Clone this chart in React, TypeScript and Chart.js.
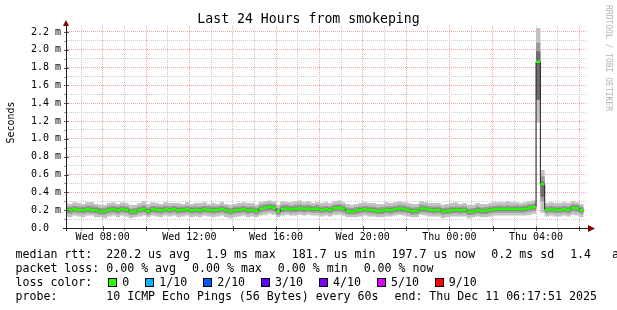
import React, { useEffect, useRef } from 'react';
import { Chart, registerables } from 'chart.js';

Chart.register(...registerables);

const FONT = '"DejaVu Sans Mono", monospace';

// time axis (hours since Wed 00:00)
const X_MIN = 6.352;
const X_MAX = 30.352;
const FIRST_STEP_H = 6.2; // first 12-minute consolidation step
const STEP_H = 0.2; // 12 minutes
const Y_MAX = 2.267; // ms

const TITLE = 'Last 24 Hours from smokeping';
const Y_TITLE = 'Seconds';
const WATERMARK = 'RRDTOOL / TOBI OETIKER';

const X_GRID_HOURS = [7, 8, 9, 10, 11, 12, 13, 14, 15, 16, 17, 18, 19, 20, 21, 22, 23, 24, 25, 26, 27, 28, 29, 30];
const X_LABEL_HOURS = [8, 12, 16, 20, 24, 28];
const X_LABELS = ['Wed 08:00', 'Wed 12:00', 'Wed 16:00', 'Wed 20:00', 'Thu 00:00', 'Thu 04:00'];

const Y_GRID = [0, 0.1, 0.2, 0.3, 0.4, 0.5, 0.6, 0.7, 0.8, 0.9, 1.0, 1.1, 1.2, 1.3, 1.4, 1.5, 1.6, 1.7, 1.8, 1.9, 2.0, 2.1, 2.2];
const Y_LABELS = ['0.0  ', '', '0.2 m', '', '0.4 m', '', '0.6 m', '', '0.8 m', '', '1.0 m', '', '1.2 m', '', '1.4 m', '', '1.6 m', '', '1.8 m', '', '2.0 m', '', '2.2 m'];

// median rtt per 12-minute step (ms)
const MEDIAN = [
  .205, .2, .21, .205, .2, .21, .205, .2, .186, .188,
  .205, .21, .2, .21, .205, .182, .185, .205, .21, .188,
  .21, .205, .2, .21, .205, .21, .2, .205, .21, .2,
  .205, .2, .21, .205, .2, .205, .21, .2, .185, .2,
  .205, .21, .2, .205, .188, .215, .228, .235, .228, .184,
  .215, .22, .21, .215, .222, .215, .22, .21, .215, .205,
  .21, .205, .222, .228, .218, .19, .186, .195, .205, .21,
  .205, .2, .19, .195, .205, .2, .21, .218, .215, .205,
  .188, .195, .218, .215, .205, .2, .205, .186, .19, .2,
  .205, .2, .205, .182, .186, .2, .19, .195, .205, .21,
  .215, .21, .215, .21, .215, .21, .215, .228, .232, 1.865,
  .494, .205, .21, .205, .205, .21, .205, .228, .222, .198,
];

// smoke: outer band (lowest / highest ping)
const OUTER_HI = [
  .28, .27, .29, .28, .27, .29, .29, .27, .26, .26,
  .28, .29, .27, .29, .28, .26, .26, .28, .3, .27,
  .29, .28, .27, .29, .28, .28, .28, .27, .29, .27,
  .28, .28, .29, .27, .28, .27, .29, .27, .26, .27,
  .28, .29, .28, .28, .26, .29, .3, .31, .3, .26,
  .3, .29, .29, .3, .31, .29, .3, .28, .29, .28,
  .29, .28, .3, .31, .29, .27, .26, .27, .28, .29,
  .28, .28, .27, .27, .29, .28, .29, .3, .29, .28,
  .27, .27, .3, .29, .28, .28, .28, .26, .27, .28,
  .29, .27, .28, .26, .26, .28, .27, .27, .28, .29,
  .29, .29, .3, .29, .29, .28, .29, .3, .31, 2.245,
  .65, .28, .29, .28, .28, .29, .28, .3, .29, .27,
];
const OUTER_LO = [
  .13, .12, .14, .13, .12, .14, .14, .12, .12, .11,
  .13, .14, .12, .14, .13, .11, .12, .13, .14, .12,
  .14, .13, .12, .14, .13, .14, .12, .13, .14, .12,
  .13, .12, .14, .13, .12, .13, .14, .12, .11, .12,
  .13, .14, .12, .13, .12, .14, .15, .16, .15, .12,
  .14, .15, .14, .14, .15, .14, .15, .14, .14, .13,
  .14, .13, .15, .15, .14, .12, .12, .12, .13, .14,
  .13, .13, .12, .12, .13, .13, .14, .15, .14, .13,
  .12, .12, .15, .14, .13, .13, .13, .11, .12, .13,
  .13, .13, .13, .11, .12, .13, .12, .12, .13, .14,
  .14, .14, .14, .14, .14, .14, .14, .15, .16, 1.18,
  .17, .13, .14, .13, .13, .14, .13, .15, .14, .12,
];
// smoke: middle band
const MID_HI = [
  .245, .24, .25, .245, .24, .25, .25, .24, .225, .23,
  .245, .25, .24, .25, .245, .22, .225, .245, .255, .23,
  .25, .245, .24, .25, .245, .25, .24, .245, .25, .24,
  .245, .24, .25, .245, .24, .245, .25, .24, .225, .24,
  .245, .25, .24, .245, .23, .26, .27, .275, .27, .225,
  .26, .26, .25, .26, .265, .255, .26, .25, .26, .245,
  .25, .245, .265, .27, .26, .23, .225, .235, .245, .25,
  .245, .24, .23, .235, .245, .24, .25, .26, .255, .245,
  .23, .235, .26, .255, .245, .24, .245, .225, .23, .24,
  .245, .24, .245, .22, .225, .24, .23, .235, .245, .25,
  .255, .25, .255, .25, .255, .25, .255, .27, .275, 2.08,
  .58, .245, .25, .245, .245, .25, .245, .27, .265, .24,
];
const MID_LO = [
  .165, .16, .17, .165, .16, .17, .165, .16, .15, .15,
  .165, .17, .16, .17, .165, .145, .15, .165, .17, .15,
  .17, .165, .16, .17, .165, .17, .16, .165, .17, .16,
  .165, .16, .17, .165, .16, .165, .17, .16, .15, .16,
  .165, .17, .16, .165, .15, .175, .185, .19, .185, .15,
  .175, .18, .17, .175, .18, .175, .18, .17, .175, .165,
  .17, .165, .18, .185, .175, .155, .15, .155, .165, .17,
  .165, .16, .155, .155, .165, .16, .17, .175, .175, .165,
  .15, .155, .175, .175, .165, .16, .165, .15, .155, .16,
  .165, .16, .165, .145, .15, .16, .155, .155, .165, .17,
  .175, .17, .175, .17, .175, .17, .175, .185, .19, 1.44,
  .3, .165, .17, .165, .165, .17, .165, .185, .18, .16,
];
// smoke: inner band
const INNER_HI = [
  .222, .218, .228, .222, .218, .228, .222, .218, .204, .206,
  .222, .228, .218, .228, .222, .2, .203, .222, .228, .206,
  .228, .222, .218, .228, .222, .228, .218, .222, .228, .218,
  .222, .218, .228, .222, .218, .222, .228, .218, .203, .218,
  .222, .228, .218, .222, .206, .233, .246, .253, .246, .202,
  .233, .238, .228, .233, .24, .233, .238, .228, .233, .222,
  .228, .222, .24, .246, .236, .208, .204, .213, .222, .228,
  .222, .218, .208, .213, .222, .218, .228, .236, .233, .222,
  .206, .213, .236, .233, .222, .218, .222, .204, .208, .218,
  .222, .218, .222, .2, .204, .218, .208, .213, .222, .228,
  .233, .228, .233, .228, .233, .228, .233, .246, .25, 1.98,
  .52, .222, .228, .222, .222, .228, .222, .246, .24, .216,
];
const INNER_LO = [
  .188, .183, .192, .188, .183, .192, .188, .183, .169, .171,
  .188, .192, .183, .192, .188, .165, .168, .188, .192, .171,
  .192, .188, .183, .192, .188, .192, .183, .188, .192, .183,
  .188, .183, .192, .188, .183, .188, .192, .183, .168, .183,
  .188, .192, .183, .188, .171, .197, .21, .217, .21, .167,
  .197, .202, .192, .197, .204, .197, .202, .192, .197, .188,
  .192, .188, .204, .21, .2, .173, .169, .178, .188, .192,
  .188, .183, .173, .178, .188, .183, .192, .2, .197, .188,
  .171, .178, .2, .197, .188, .183, .188, .169, .173, .183,
  .188, .183, .188, .165, .169, .183, .173, .178, .188, .192,
  .197, .192, .197, .192, .197, .192, .197, .21, .214, 1.44,
  .35, .188, .192, .188, .188, .192, .188, .21, .204, .181,
];

const LEGEND_MEDIAN = ['median rtt:  220.2 us avg', '1.9 ms max', '181.7 us min', '197.7 us now', '0.2 ms sd', '1.4   am/as'];
const LEGEND_LOSS = ['packet loss: 0.00 % avg', '0.00 % max', '0.00 % min', '0.00 % now'];
const LOSS_HEAD = 'loss color:';
const LOSS_LABELS = ['0', '1/10', '2/10', '3/10', '4/10', '5/10', '9/10'];
const LOSS_COLORS = ['#26ff00', '#00b8ff', '#0059ff', '#5e00ff', '#7e00ff', '#dd00ff', '#ff0000'];
const LEGEND_PROBE = ['probe:       10 ICMP Echo Pings (56 Bytes) every 60s', 'end: Thu Dec 11 06:17:51 2025'];

const GRID_MINOR = '#cdcdcd';
const GRID_MAJOR = '#f2a6a6';
const AXIS = '#202020';
const ARROW = '#7f0000';

function stepPoints(vals: number[]) {
  const pts: { x: number; y: number }[] = vals.map((v, k) => ({ x: FIRST_STEP_H + STEP_H * k, y: v }));
  pts.push({ x: FIRST_STEP_H + STEP_H * vals.length, y: vals[vals.length - 1] });
  return pts;
}

function segmentPoints(vals: number[]) {
  const pts: { x: number; y: number | null }[] = [];
  vals.forEach((v, k) => {
    const a = FIRST_STEP_H + STEP_H * k;
    pts.push({ x: a, y: v }, { x: a + STEP_H, y: v }, { x: a + STEP_H, y: null });
  });
  return pts;
}

const decor = {
  id: 'decor',
  afterDraw(chart: any) {
    const ctx = chart.ctx as CanvasRenderingContext2D;
    const { left, right, top, bottom } = chart.chartArea;
    const xs = chart.scales.x;
    const ys = chart.scales.y;
    ctx.save();

    // tick marks
    ys.ticks.forEach((t: any, i: number) => {
      const y = Math.round(ys.getPixelForValue(t.value));
      if (Y_LABELS[i]) {
        ctx.fillStyle = '#555';
        ctx.fillRect(left - 3, y, 5, 1);
      } else {
        ctx.fillStyle = '#999';
        ctx.fillRect(left - 3, y, 2, 1);
      }
    });
    xs.ticks.forEach((t: any) => {
      const x = Math.round(xs.getPixelForValue(t.value));
      if (t.value % 2 === 0) {
        ctx.fillStyle = '#555';
        ctx.fillRect(x, bottom - 2, 1, 5);
      } else {
        ctx.fillStyle = '#999';
        ctx.fillRect(x, bottom + 1, 1, 2);
      }
    });

    // axes
    ctx.fillStyle = AXIS;
    ctx.fillRect(left - 1, top, 1, bottom - top + 3);
    ctx.fillRect(left - 4, bottom, right - left + 5, 1);

    // arrows
    ctx.fillStyle = ARROW;
    ctx.beginPath();
    ctx.moveTo(left - 4, top);
    ctx.lineTo(left + 2, top);
    ctx.lineTo(left - 1, top - 6);
    ctx.closePath();
    ctx.fill();
    ctx.beginPath();
    ctx.moveTo(right + 1, bottom - 3);
    ctx.lineTo(right + 1, bottom + 4);
    ctx.lineTo(right + 8, bottom + 0.5);
    ctx.closePath();
    ctx.fill();

    // title
    ctx.fillStyle = '#000';
    ctx.font = `13.2px ${FONT}`;
    ctx.textAlign = 'center';
    ctx.textBaseline = 'alphabetic';
    ctx.fillText(TITLE, 308.5, 23);

    // vertical axis title
    ctx.save();
    ctx.translate(11.5, 122.5);
    ctx.rotate(-Math.PI / 2);
    ctx.font = `10px ${FONT}`;
    ctx.textAlign = 'center';
    ctx.textBaseline = 'middle';
    ctx.fillText(Y_TITLE, 0, 0);
    ctx.restore();

    // watermark
    ctx.save();
    ctx.translate(608.5, 5);
    ctx.rotate(Math.PI / 2);
    ctx.font = `8px ${FONT}`;
    ctx.fillStyle = '#b4b4b4';
    ctx.textAlign = 'left';
    ctx.textBaseline = 'middle';
    ctx.fillText(WATERMARK, 0, 0);
    ctx.restore();

    // legend
    const GAP = 16;
    const X0 = 15.5;
    ctx.font = `11.6px ${FONT}`;
    ctx.textAlign = 'left';
    ctx.textBaseline = 'alphabetic';
    ctx.fillStyle = '#000';
    const row = (items: string[], y: number) => {
      let x = X0;
      items.forEach((s) => {
        ctx.fillText(s, x, y);
        x += ctx.measureText(s).width + GAP;
      });
    };
    row(LEGEND_MEDIAN, 258);
    row(LEGEND_LOSS, 272);
    let x = X0;
    ctx.fillText(LOSS_HEAD, x, 286);
    x += ctx.measureText(LOSS_HEAD).width + GAP;
    LOSS_LABELS.forEach((lab, i) => {
      const bx = Math.round(x);
      ctx.fillStyle = LOSS_COLORS[i];
      ctx.fillRect(bx, 278, 9, 9);
      ctx.strokeStyle = '#000';
      ctx.lineWidth = 1;
      ctx.strokeRect(bx + 0.5, 278.5, 8, 8);
      ctx.fillStyle = '#000';
      ctx.fillText(lab, x + 14, 286);
      x += 14 + ctx.measureText(lab).width + GAP;
    });
    row(LEGEND_PROBE, 300);

    ctx.restore();
  },
};

export default function App() {
  const ref = useRef<HTMLCanvasElement | null>(null);

  useEffect(() => {
    if (!ref.current) return;
    const band = (data: number[], color: string | null, order: number) => ({
      data: stepPoints(data),
      stepped: true,
      borderWidth: 0,
      borderColor: 'transparent',
      backgroundColor: color || 'transparent',
      fill: color ? '-1' : false,
      pointRadius: 0,
      pointHitRadius: 0,
      clip: 0,
      order,
    });
    const chart = new Chart(ref.current, {
      type: 'line',
      data: {
        datasets: [
          band(OUTER_LO, null, 10),
          band(OUTER_HI, '#c2c2c2', 9),
          band(MID_LO, null, 8),
          band(MID_HI, '#9a9a9a', 7),
          band(INNER_LO, null, 6),
          band(INNER_HI, '#6e6e6e', 5),
          {
            data: stepPoints(MEDIAN),
            stepped: true,
            borderWidth: 1,
            borderColor: '#202020',
            fill: false,
            pointRadius: 0,
            clip: 0,
            order: 2,
          },
          {
            data: segmentPoints(MEDIAN),
            borderWidth: 2.5,
            borderColor: LOSS_COLORS[0],
            borderCapStyle: 'butt',
            fill: false,
            spanGaps: false,
            pointRadius: 0,
            clip: 0,
            order: 1,
          },
        ] as any,
      },
      options: {
        animation: false,
        responsive: false,
        devicePixelRatio: 1,
        events: [],
        layout: { padding: { left: 0, top: 26, right: 30, bottom: 0 } },
        plugins: { legend: { display: false }, tooltip: { enabled: false }, title: { display: false } },
        scales: {
          x: {
            type: 'linear',
            min: X_MIN,
            max: X_MAX,
            afterBuildTicks: (s: any) => {
              s.ticks = X_GRID_HOURS.map((v) => ({ value: v }));
            },
            afterFit: (s: any) => {
              s.height = 82;
            },
            ticks: {
              autoSkip: false,
              maxRotation: 0,
              minRotation: 0,
              padding: 3,
              color: '#000',
              font: { family: 'DejaVu Sans Mono', size: 10 },
              callback: (v: any) => {
                const i = X_LABEL_HOURS.indexOf(Number(v));
                return i >= 0 ? X_LABELS[i] : '';
              },
            },
            grid: {
              drawTicks: false,
              lineWidth: 1,
              color: (c: any) => (X_GRID_HOURS[c.index] % 2 === 0 ? GRID_MAJOR : GRID_MINOR),
            },
            border: { display: false, dash: [1, 1] },
          },
          y: {
            type: 'linear',
            min: 0,
            max: Y_MAX,
            afterBuildTicks: (s: any) => {
              s.ticks = Y_GRID.map((v) => ({ value: v }));
            },
            afterFit: (s: any) => {
              s.width = 67;
            },
            ticks: {
              autoSkip: false,
              padding: 6,
              color: '#000',
              font: { family: 'DejaVu Sans Mono', size: 10 },
              callback: (_v: any, i: number) => Y_LABELS[i],
            },
            grid: {
              drawTicks: false,
              lineWidth: 1,
              color: (c: any) => (Y_LABELS[c.index] ? GRID_MAJOR : GRID_MINOR),
            },
            border: { display: false, dash: [1, 1] },
          },
        },
      } as any,
      plugins: [decor],
    });
    return () => chart.destroy();
  }, []);

  return (
    <div style={{ position: 'absolute', left: 0, top: 0, width: 617, height: 310, background: '#fff' }}>
      <canvas ref={ref} width={617} height={310} style={{ display: 'block' }} />
    </div>
  );
}
